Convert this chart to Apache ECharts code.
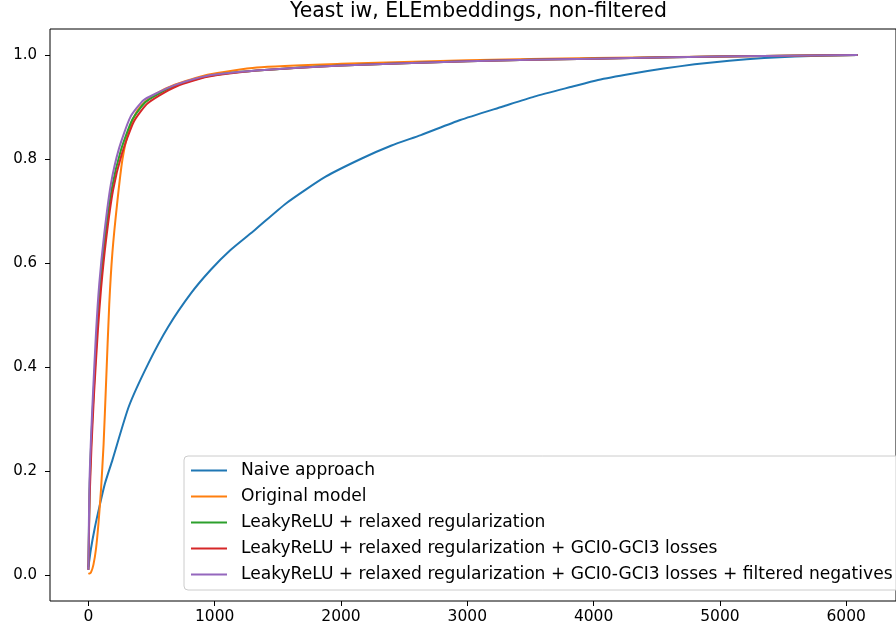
<!DOCTYPE html>
<html>
<head>
<meta charset="utf-8">
<script src="https://cdn.jsdelivr.net/npm/echarts@6/dist/echarts.min.js"></script>
<style>
  html, body { margin: 0; padding: 0; background: #fff; }
  #chart { width: 896px; height: 631px; }
</style>
</head>
<body>
<div id="chart"></div>
<script>
// tick positions
const xTicks = [0, 1000, 2000, 3000, 4000, 5000, 6000]
const yTicks = [0, 0.2, 0.4, 0.6, 0.8, 1.0]

const seriesNames = [
  'Naive approach',
  'Original model',
  'LeakyReLU + relaxed regularization',
  'LeakyReLU + relaxed regularization + GCI0-GCI3 losses',
  'LeakyReLU + relaxed regularization + GCI0-GCI3 losses + filtered negatives',
]

// [rank, fraction]
const naive = [
  [0, 0.015], [20, 0.05], [50, 0.09], [86, 0.13], [130, 0.175], [190, 0.221],
  [320, 0.324], [475, 0.407], [631, 0.477], [813, 0.542], [969, 0.587],
  [1125, 0.625], [1320, 0.664], [1567, 0.715], [1878, 0.766], [2164, 0.801],
  [2400, 0.826], [2632, 0.846], [2944, 0.875], [3281, 0.901], [3530, 0.92],
  [3827, 0.939], [4035, 0.952], [4300, 0.964], [4554, 0.974], [4800, 0.982],
  [5074, 0.989], [5350, 0.994], [5594, 0.997], [5850, 0.999], [6090, 1.0],
]
const original = [
  [0, 0.002], [20, 0.005], [40, 0.02], [60, 0.05], [80, 0.1], [100, 0.165],
  [120, 0.25], [140, 0.37], [165, 0.52], [190, 0.62], [230, 0.72], [270, 0.8],
  [320, 0.855], [380, 0.89], [450, 0.91], [530, 0.925], [683, 0.943],
  [943, 0.962], [1333, 0.976], [2000, 0.983], [3000, 0.99], [4000, 0.994],
  [5000, 0.997], [6090, 1.0],
]
const leaky = [
  [0, 0.01], [9, 0.16], [22, 0.255], [40, 0.345], [68, 0.467], [94, 0.555],
  [133, 0.65], [187, 0.745], [255, 0.815], [348, 0.876], [450, 0.909],
  [545, 0.924], [690, 0.941], [943, 0.959], [1333, 0.97], [2000, 0.98],
  [3000, 0.988], [4000, 0.993], [5000, 0.997], [6090, 1.0],
]
const leakyGci = [
  [0, 0.01], [10, 0.15], [25, 0.25], [45, 0.35], [75, 0.47], [100, 0.55],
  [140, 0.645], [195, 0.74], [265, 0.81], [360, 0.872], [460, 0.905],
  [560, 0.922], [700, 0.94], [943, 0.958], [1333, 0.97], [2000, 0.98],
  [3000, 0.988], [4000, 0.993], [5000, 0.997], [6090, 1.0],
]
const leakyGciNeg = [
  [0, 0.01], [8, 0.176], [20, 0.26], [34, 0.337], [60, 0.465], [86, 0.56],
  [125, 0.655], [177, 0.75], [242, 0.82], [333, 0.881], [436, 0.913],
  [527, 0.925], [683, 0.942], [943, 0.96], [1333, 0.97], [2000, 0.98],
  [3000, 0.988], [4000, 0.993], [5000, 0.997], [6090, 1.0],
]

const colors = ['#1f77b4', '#ff7f0e', '#2ca02c', '#d62728', '#9467bd']
const curves = [naive, original, leaky, leakyGci, leakyGciNeg]

const font = 'DejaVu Sans'
const chart = echarts.init(document.getElementById('chart'))

chart.setOption({
  animation: false,
  backgroundColor: '#fff',
  title: {
    text: 'Yeast iw, ELEmbeddings, non-filtered',
    left: 290,
    top: 2,
    padding: 0,
    textStyle: { fontFamily: font, fontSize: 20.4, fontWeight: 'normal', color: '#000' },
  },
  grid: {
    left: 50, top: 29, right: -13, bottom: 30,
    show: true, borderColor: '#000', borderWidth: 1,
  },
  legend: {
    orient: 'vertical',
    left: 184,
    top: 456,
    padding: [6, 8, 7, 7],
    itemWidth: 36,
    itemHeight: 2,
    itemGap: 9,
    icon: 'rect',
    backgroundColor: 'rgba(255,255,255,0.8)',
    borderColor: '#ccc',
    borderWidth: 1,
    borderRadius: 4,
    textStyle: { fontFamily: font, fontSize: 17.1, color: '#000', lineHeight: 17, padding: [0, 0, 0, 9] },
    data: seriesNames,
  },
  xAxis: {
    type: 'value',
    min: -304,
    max: 6394,
    splitLine: { show: false },
    axisLine: { show: false, onZero: false },
    axisTick: { show: true, length: 5, customValues: xTicks, lineStyle: { color: '#000' } },
    axisLabel: {
      customValues: xTicks, margin: 8,
      fontFamily: font, fontSize: 15.5, color: '#000',
      formatter: (v) => String(v),
    },
  },
  yAxis: {
    type: 'value',
    min: -0.05,
    max: 1.05,
    splitLine: { show: false },
    axisLine: { show: false, onZero: false },
    axisTick: { show: true, length: 5, customValues: yTicks, lineStyle: { color: '#000' } },
    axisLabel: {
      customValues: yTicks, margin: 13,
      fontFamily: font, fontSize: 15, color: '#000',
      formatter: (v) => v.toFixed(1),
    },
  },
  series: curves.map((d, i) => ({
    name: seriesNames[i],
    type: 'line',
    data: d,
    showSymbol: false,
    smooth: 0.2,
    color: colors[i],
    lineStyle: { width: 2, color: colors[i] },
    z: 2 + i,
  })),
})
</script>
</body>
</html>
